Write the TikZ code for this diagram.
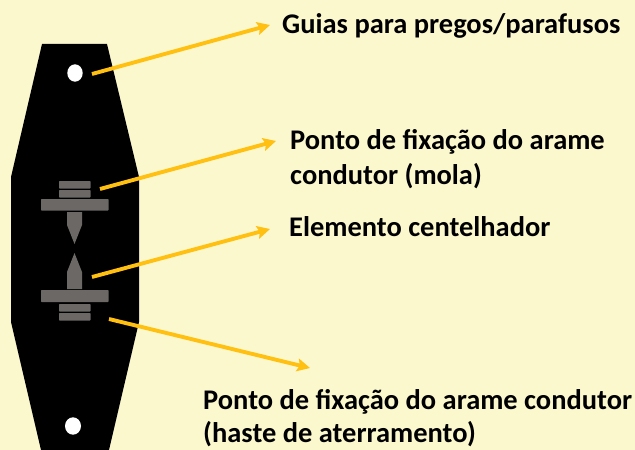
\documentclass[tikz,border=0pt]{standalone}
\usepackage{fontspec}
\setmainfont{Carlito}
\usetikzlibrary{arrows.meta}

\definecolor{paper}{HTML}{FCF8CE}
\definecolor{seta}{HTML}{FFC012}
\definecolor{peca}{HTML}{6B6866}

\tikzset{
	rotulo/.style={anchor=base west, font=\fontsize{24.3}{28}\selectfont\bfseries, inner sep=0pt, text=black},
	seta/.style={color=seta, line width=3.3pt, -{Stealth[length=11pt, width=11pt, inset=2pt]}},
	metal/.style={fill=peca, rounded corners=.6pt}
}

\begin{document}
\begin{tikzpicture}[x=.03cm, y=-.03cm]

% background
	\fill[color=paper] (0,0) rectangle (635,450);
	\useasboundingbox (0,0) rectangle (635,450);

% black plate
	\fill[color=black] (42,44)--(107,44)--(139,177)--(139,322)--(109,450)--(41,450)--(11,322)--(11,177)--cycle;

% holes
	\fill[color=white] (75,73) ellipse (7.7 and 8.7);
	\fill[color=white] (73,426) ellipse (8 and 8.7);

% upper electrode
	\fill[metal] (59,181) rectangle (90.5,188.5);
	\fill[metal] (59,190) rectangle (90.5,197.5);
	\fill[metal] (41,199) rectangle (108.5,210.5);
	\fill[color=peca] (67,212)--(82,212)--(82,225)--(74.5,244)--(67,225)--cycle;

% lower electrode
	\fill[color=peca] (67,289)--(82,289)--(82,272)--(74.5,253)--(67,272)--cycle;
	\fill[metal] (41,290) rectangle (108.5,302);
	\fill[metal] (59,304) rectangle (90.5,311.5);
	\fill[metal] (59,313) rectangle (90.5,320.5);

% labels
	\node[rotulo] (guias) at (282,34) {Guias para pregos/parafusos};
	\node[rotulo] (fixmola) at (290,149) {Ponto de fixação do arame};
	\node[rotulo] (mola) at (290,184) {condutor (mola)};
	\node[rotulo] (centelha) at (289,236) {Elemento centelhador};
	\node[rotulo] (fixhaste) at (203,409) {Ponto de fixação do arame condutor};
	\node[rotulo] (haste) at (203,442) {(haste de aterramento)};

% arrows
	\coordinate (furoA) at (92,74);
	\coordinate (pontaA) at (270,25);
	\coordinate (moleA) at (100,189);
	\coordinate (pontaB) at (276,141);
	\coordinate (gapA) at (92,277);
	\coordinate (pontaC) at (270,229);
	\coordinate (baseA) at (109,319);
	\coordinate (pontaD) at (310,368);
	\draw[seta] (furoA) -- (pontaA);
	\draw[seta] (moleA) -- (pontaB);
	\draw[seta] (gapA) -- (pontaC);
	\draw[seta] (baseA) -- (pontaD);

\end{tikzpicture}
\end{document}
